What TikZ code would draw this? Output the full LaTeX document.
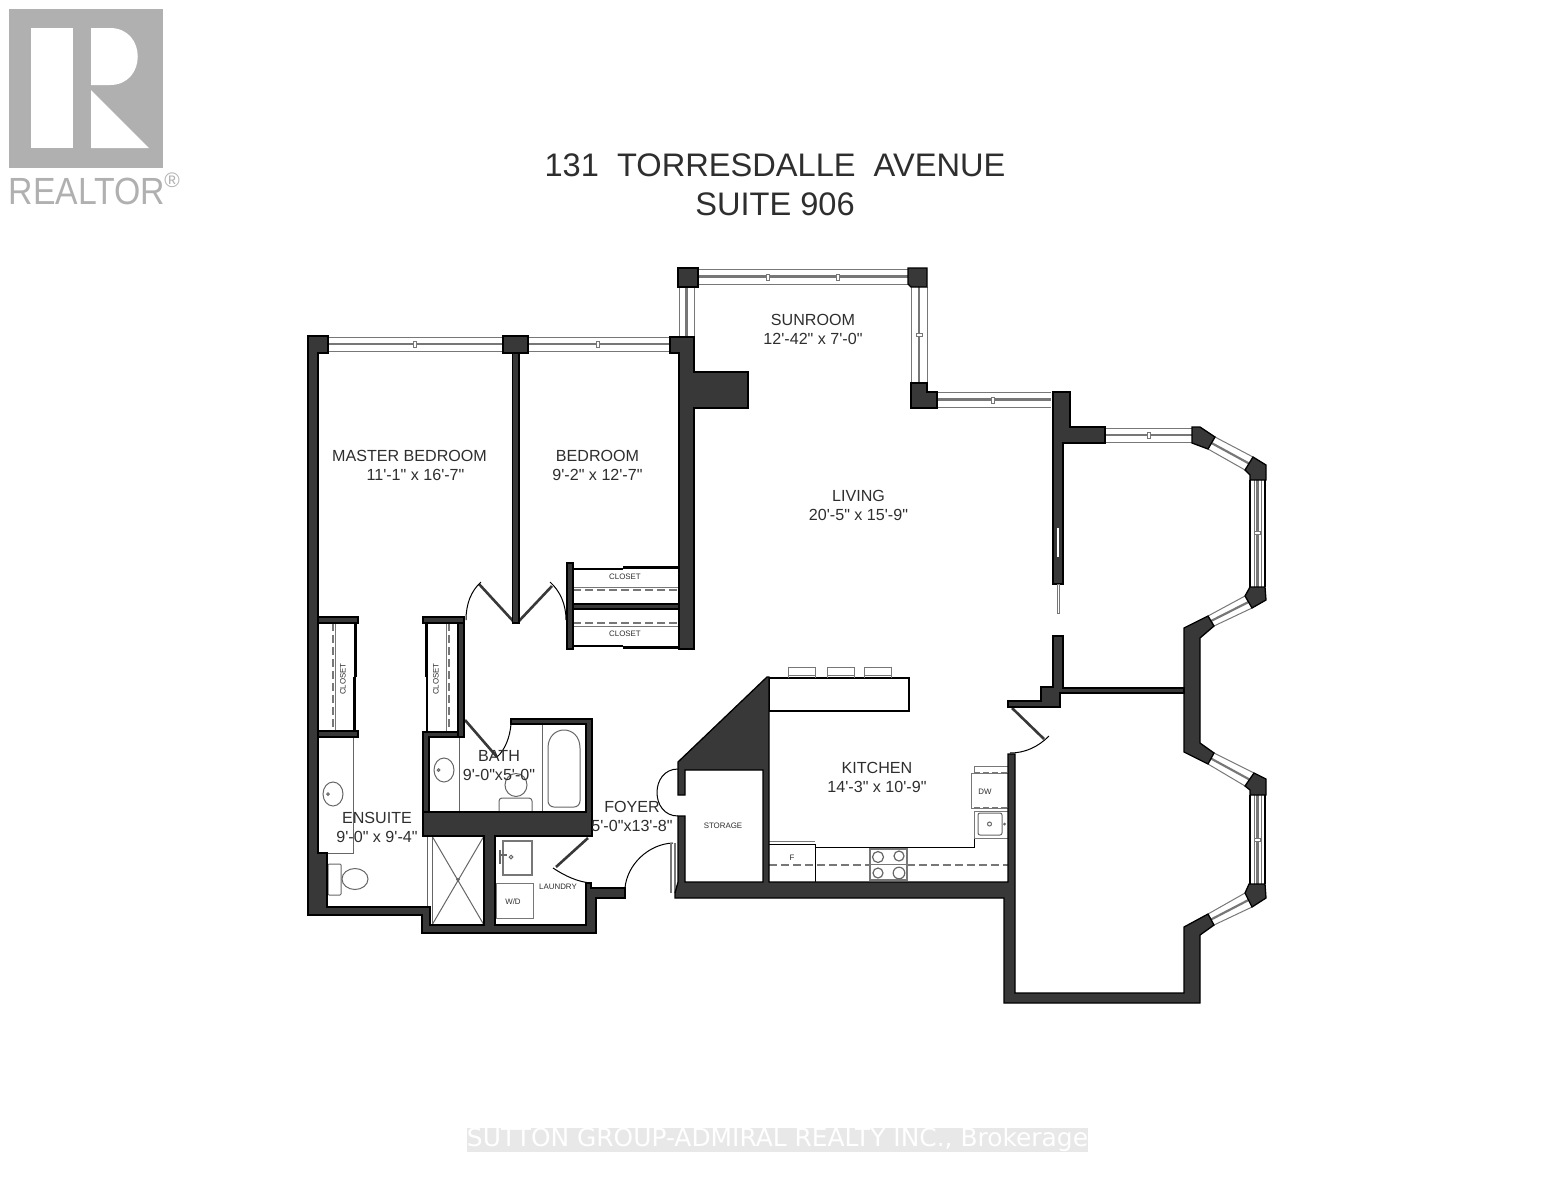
\documentclass[tikz,border=0pt]{standalone}
\usepackage{fontspec}
\usetikzlibrary{calc}
\newfontfamily\planfont{Liberation Sans}
\newfontfamily\markfont{DejaVu Sans}
\definecolor{wallgrey}{HTML}{383838}
\definecolor{railgrey}{HTML}{777777}
\definecolor{fixgrey}{HTML}{666666}
\definecolor{logogrey}{HTML}{B0B0B0}
\definecolor{textgrey}{HTML}{2E2E2E}
\tikzset{
    wall/.style={fill=wallgrey, draw=black, line width=1.3pt, line join=miter},
    thinwall/.style={draw=black, line width=2.5pt},
    railthin/.style={draw=railgrey, line width=1pt},
    railmid/.style={draw=railgrey, line width=2.2pt},
    mullion/.style={draw=railgrey, fill=white, line width=0.9pt},
    fixture/.style={draw=fixgrey, line width=1pt},
    cabinet/.style={draw=railgrey, line width=1pt},
    hidden/.style={draw=railgrey, line width=1.2pt, dash pattern=on 8pt off 4pt},
    doorleaf/.style={draw=wallgrey, line width=2.6pt},
    doorarc/.style={draw=black, line width=1pt},
    roomlabel/.style={font=\planfont\fontsize{16.1}{19}\selectfont, text=textgrey, align=center, inner sep=0pt},
    smalllabel/.style={font=\planfont\fontsize{7.9}{10}\selectfont, text=textgrey, inner sep=0pt},
}
\newcommand{\sash}[4]{
    \draw[railthin] #1 -- #3 #2 -- #4;
    \draw[railmid] ($#1!.5!#2$) -- ($#3!.5!#4$);
}
\begin{document}
\begin{tikzpicture}[x=1pt,y=-1pt]
    \useasboundingbox (0,0) rectangle (1553,1200);
    % logo
    \fill[logogrey] (9,9) rectangle (163,168);
    \fill[white] (31,28) rectangle (73,148);
    \fill[white] (91,28) -- (110,28) .. controls (147,28) and (147,85) .. (110,85) -- (91,85) -- cycle;
    \fill[white] (91,90) -- (149,148) -- (91,148) -- cycle;
    \node[font=\planfont\fontsize{33.8}{40}\selectfont, text=logogrey, inner sep=0pt] at (87,191) (REALTOR) {\scalebox{1}[1.12]{REALTOR}};
    \node[font=\planfont\fontsize{21}{24}\selectfont, text=logogrey, inner sep=0pt] at (172,180) (REGMARK) {®};
    % title
    \node[font=\planfont\fontsize{32.6}{39}\selectfont, text=textgrey, align=center, inner sep=0pt] at (775,184.5) (TITLE) {131~~TORRESDALLE~~AVENUE\\SUITE 906};
    % windows
    \sash{(328,337)}{(328,351)}{(503,337)}{(503,351)}
    \sash{(528,337)}{(528,351)}{(670,337)}{(670,351)}
    \sash{(698,269)}{(698,284)}{(908,269)}{(908,284)}
    \sash{(679,287)}{(694,287)}{(679,336)}{(694,336)}
    \sash{(911,287)}{(927,287)}{(911,383)}{(927,383)}
    \sash{(937,392)}{(937,407)}{(1051,392)}{(1051,407)}
    \sash{(1105,428)}{(1105,442)}{(1192,428)}{(1192,442)}
    \sash{(1215,437)}{(1208,449)}{(1253,457)}{(1245,470)}
    \sash{(1214,626)}{(1208,616)}{(1252,608)}{(1245,596)}
    \sash{(1214,753)}{(1208,764)}{(1254,773)}{(1245,786)}
    \sash{(1214,925)}{(1208,914)}{(1252,907)}{(1245,893)}
    \draw[draw=black, line width=1.6pt] (1250,480) -- (1250,587) (1265,480) -- (1265,587);
    \draw[draw=black, line width=1.6pt] (1250,795) -- (1250,884) (1265,795) -- (1265,884);
    \draw[railthin] (1254,480) -- (1254,587) (1261,480) -- (1261,587) (1254,795) -- (1254,884) (1261,795) -- (1261,884);
    \draw[railmid] (1257.5,480) -- (1257.5,587) (1257.5,795) -- (1257.5,884);
    \draw[mullion] (415,344) +(-1.8,-3) rectangle +(1.8,3);
    \draw[mullion] (598,344) +(-1.8,-3) rectangle +(1.8,3);
    \draw[mullion] (768,277) +(-1.8,-3) rectangle +(1.8,3);
    \draw[mullion] (838,277) +(-1.8,-3) rectangle +(1.8,3);
    \draw[mullion] (993,400) +(-1.8,-3) rectangle +(1.8,3);
    \draw[mullion] (1149,435) +(-1.8,-3) rectangle +(1.8,3);
    \draw[mullion] (919,335) +(-3,-1.8) rectangle +(3,1.8);
    \draw[mullion] (1257.5,533) +(-3,-1.8) rectangle +(3,1.8);
    \draw[mullion] (1257.5,840) +(-3,-1.8) rectangle +(3,1.8);
    % closets
    \draw[railthin] (573,587) -- (679,587) (573,626) -- (679,626);
    \draw[hidden] (573,590) -- (679,590) (573,623) -- (679,623);
    \draw[railthin] (335,623) -- (335,731) (446,623) -- (446,732);
    \draw[hidden] (333,623) -- (333,731) (449,623) -- (449,732);
    \node[smalllabel] at (625,577) (CLOSETA) {CLOSET};
    \node[smalllabel] at (625,634) (CLOSETB) {CLOSET};
    \node[smalllabel, rotate=90] at (343,679) (CLOSETC) {CLOSET};
    \node[smalllabel, rotate=90] at (436,679) (CLOSETD) {CLOSET};
    % ensuite
    \draw[fixture] (318,737) rectangle (353,853);
    \draw[fixture] (333,794) ellipse (10 and 12);
    \draw[fixture] (328,794) circle (1.3);
    \draw[fixture, rounded corners=1] (328,864) rectangle (341,895);
    \draw[fixture] (355,879) ellipse (13 and 10.5);
    \draw[fixture] (427,836) -- (427,907);
    \draw[fixture] (432,836) rectangle (484,925);
    \draw[fixture] (432,836) -- (484,925) (484,836) -- (432,925);
    \draw[fixture] (458,879.5) circle (1.3);
    % bath
    \draw[fixture] (459,737) -- (459,812) (542,724) -- (542,812);
    \draw[fixture] (444,770) ellipse (10 and 12);
    \draw[fixture] (438.5,770) circle (1.3);
    \draw[fixture] (516,785) ellipse (11 and 11.5);
    \draw[fixture, rounded corners=3] (499,812) -- (499,798) -- (532,798) -- (532,812);
    \draw[fixture, rounded corners=6] (548,748) -- (548,807) -- (580,807) -- (580,748);
    \draw[fixture] (548,748) .. controls (548,724) and (580,724) .. (580,748);
    % laundry
    \draw[cabinet, line width=2pt] (503,841) rectangle (532,875);
    \draw[fixture, line width=1.4pt] (500,850) -- (500,864) (500,855) -- (507,855);
    \draw[fixture] (511,857) circle (1.8);
    \draw[cabinet] (496,883) rectangle (533,918);
    \node[smalllabel] at (513,902) (WD) {W/D};
    \node[smalllabel] at (558,887) (LAUNDRY) {LAUNDRY};
    % kitchen
    \draw[draw=black, line width=2.2pt] (769,678) rectangle (909,711);
    \foreach \stoolx in {788,827,864}{
        \draw[cabinet] (\stoolx,678) -- (\stoolx,667) -- (\stoolx+27,667) -- (\stoolx+27,678);
        \draw[cabinet] (\stoolx,675) -- (\stoolx+27,675);
    }
    \draw[cabinet] (769,841.5) -- (815,841.5);
    \draw[draw=black, line width=1pt] (769,844.5) -- (815,844.5) -- (815,882);
    \node[smalllabel] at (792,858) (FRIDGE) {F};
    \draw[draw=black, line width=1pt] (815,847) -- (974,847) -- (974,811);
    \draw[hidden] (769,865) -- (870,865) (907,865) -- (1008,865);
    \draw[cabinet, fill=white, line width=1.2pt] (870,849) rectangle (907,880);
    \draw[cabinet] (870,864.5) -- (907,864.5);
    \draw[fixture, line width=1.2pt] (878,857) circle (5.5) (899,856) circle (5) (878,873) circle (5) (899,873) circle (5.8);
    \draw[cabinet] (974,811) rectangle (1008,838);
    \draw[fixture, rounded corners=2] (978,813) rectangle (1002,835);
    \draw[fixture] (989.5,824) circle (2) (1004.5,824) circle (0.8);
    \draw[cabinet] (974,773) -- (974,766) -- (1008,766);
    \draw[cabinet] (971,773) rectangle (1008,808);
    \draw[hidden, dash pattern=on 6pt off 3pt] (974,773) -- (1008,773) (974,808) -- (1008,808);
    \node[smalllabel] at (985,792) (DW) {DW};
    \node[smalllabel] at (723,826) (STORAGE) {STORAGE};
    % doors
    \draw[doorleaf] (513,621) -- (479,584);
    \draw[doorarc] (466,620) .. controls (466,604) and (471,591) .. (481,582);
    \draw[doorleaf] (519,621) -- (552,586);
    \draw[doorarc] (566,620) .. controls (566,604) and (560,591) .. (550,582);
    \draw[doorleaf] (465,720) -- (497,757);
    \draw[doorarc] (497,757) .. controls (505,750) and (510,737) .. (511,724);
    \draw[doorleaf] (588,838) -- (556,867);
    \draw[doorarc] (553,868) .. controls (565,876) and (578,882) .. (591,883);
    \draw[doorarc] (625,888) .. controls (627,865) and (648,844) .. (673,843);
    \draw[railthin, line width=1.4pt] (671,843) -- (671,893) (675,843) -- (675,893);
    \draw[doorarc] (678,769) .. controls (650,769) and (650,816) .. (678,816);
    \draw[doorleaf] (1012,708) -- (1044,739);
    \draw[doorarc] (1010,753) .. controls (1025,753) and (1038,747) .. (1049,736);
    % walls
    \draw[wall] (308,336) -- (328,336) -- (328,353) -- (318,353) -- (318,853) -- (327,853) -- (327,907)
        -- (430,907) -- (430,925) -- (484,925) -- (484,836) -- (423,836) -- (423,812) -- (586,812) -- (586,724) -- (511,724)
        -- (511,719) -- (592,719) -- (592,836) -- (495,836) -- (495,925) -- (586,925) -- (586,883) -- (591,883) -- (591,888)
        -- (625,888) -- (625,898) -- (596,898) -- (596,933) -- (422,933) -- (422,915) -- (308,915) -- cycle;
    \draw[wall] (423,812) -- (423,732) -- (459,732) -- (459,737) -- (429,737) -- (429,812) -- cycle;
    \draw[wall] (503,336) rectangle (528,353);
    \draw[wall] (512.5,353) rectangle (519,623);
    \draw[wall] (318,617) rectangle (358,623);
    \draw[wall] (318,731) rectangle (358,737);
    \draw[thinwall] (355.5,623) -- (355.5,677) (354.5,677) -- (354.5,731);
    \draw[wall] (423,617) rectangle (464,623);
    \draw[wall] (458,623) rectangle (464,737);
    \draw[thinwall] (426.5,623) -- (426.5,677) (427,677) -- (427,732);
    \draw[wall] (567,563) rectangle (573,649);
    \draw[thinwall] (573,569) -- (623,569) (623,567.5) -- (679,567.5);
    \draw[wall] (573,604) rectangle (679,609);
    \draw[thinwall] (573,646) -- (623,646) (623,647.5) -- (679,647.5);
    \draw[wall] (670,337) -- (694,337) -- (694,372) -- (748,372) -- (748,408) -- (694,408) -- (694,649)
        -- (679,649) -- (679,353) -- (670,353) -- cycle;
    \draw[wall] (678,268) rectangle (698,287);
    \draw[wall] (908,268) -- (927,268) -- (927,287) -- (911,287) -- (908,284) -- cycle;
    \draw[wall] (911,383) -- (927,383) -- (927,392) -- (937,392) -- (937,408) -- (911,408) -- cycle;
    \draw[wall] (1053,392) -- (1070,392) -- (1070,427) -- (1105,427) -- (1105,443) -- (1063,443)
        -- (1063,584) -- (1053,584) -- cycle;
    \fill[white] (1057,528) rectangle (1059,557);
    \draw[fill=white, draw=railgrey, line width=0.8pt] (1057,584) rectangle (1059.5,613);
    \draw[wall] (1192,427) -- (1200,427) -- (1215,437) -- (1208,449) -- (1192,443) -- cycle;
    \draw[wall] (1250,480) -- (1266,480) -- (1266,465) -- (1253,457) -- (1245,470) -- (1250,475) -- cycle;
    \draw[wall] (1245,596) -- (1250,587) -- (1265,587) -- (1266,600) -- (1252,608) -- cycle;
    \draw[wall] (1184,628) -- (1208,616) -- (1214,626) -- (1200,638) -- (1200,743) -- (1214,753) -- (1208,764) -- (1184,752) -- cycle;
    \draw[wall] (1250,795) -- (1266,795) -- (1266,779) -- (1254,773) -- (1245,786) -- (1250,790) -- cycle;
    \draw[wall] (1245,893) -- (1249,884) -- (1265,884) -- (1266,898) -- (1252,907) -- cycle;
    \draw[wall] (1053,636) -- (1063,636) -- (1063,688) -- (1184,688) -- (1184,693) -- (1060,693) -- (1060,707) -- (1008,707)
        -- (1008,701) -- (1041,701) -- (1041,687) -- (1053,687) -- cycle;
    \draw[wall] (1008,754) -- (1015,754) -- (1015,993) -- (1184,993) -- (1184,927) -- (1208,914) -- (1214,925) -- (1200,935)
        -- (1200,1003) -- (1004,1003) -- (1004,898) -- (675,898) -- (675,893) -- (678,882) -- (678,816) -- (685,816) -- (685,882)
        -- (763,882) -- (763,770) -- (685,770) -- (685,795) -- (678,795) -- (678,762) -- (767,677) -- (769,677) -- (769,882)
        -- (1008,882) -- cycle;
    % room labels
    \node[roomlabel] at (409.5,465.5) (MASTER) {MASTER BEDROOM\\\hspace*{12pt}11'-1" x 16'-7"};
    \node[roomlabel] at (597.5,465.5) (BEDROOM) {BEDROOM\\9'-2" x 12'-7"};
    \node[roomlabel] at (813,329.5) (SUNROOM) {SUNROOM\\12'-42" x 7'-0"};
    \node[roomlabel] at (858.5,505.5) (LIVING) {LIVING\\20'-5" x 15'-9"};
    \node[roomlabel] at (877,777.5) (KITCHEN) {KITCHEN\\14'-3" x 10'-9"};
    \node[roomlabel] at (499,765.5) (BATH) {BATH\\9'-0"x5'-0"};
    \node[roomlabel] at (632,816.5) (FOYER) {FOYER\\5'-0"x13'-8"};
    \node[roomlabel] at (377,827.5) (ENSUITE) {ENSUITE\\9'-0" x 9'-4"};
    % watermark
    \fill[black!9] (467,1128) rectangle (1088,1152);
    \node[font=\markfont\fontsize{24.9}{28}\selectfont, text=white, inner sep=0pt] at (777.5,1140) (BROKER) {SUTTON GROUP-ADMIRAL REALTY INC., Brokerage};
\end{tikzpicture}
\end{document}
